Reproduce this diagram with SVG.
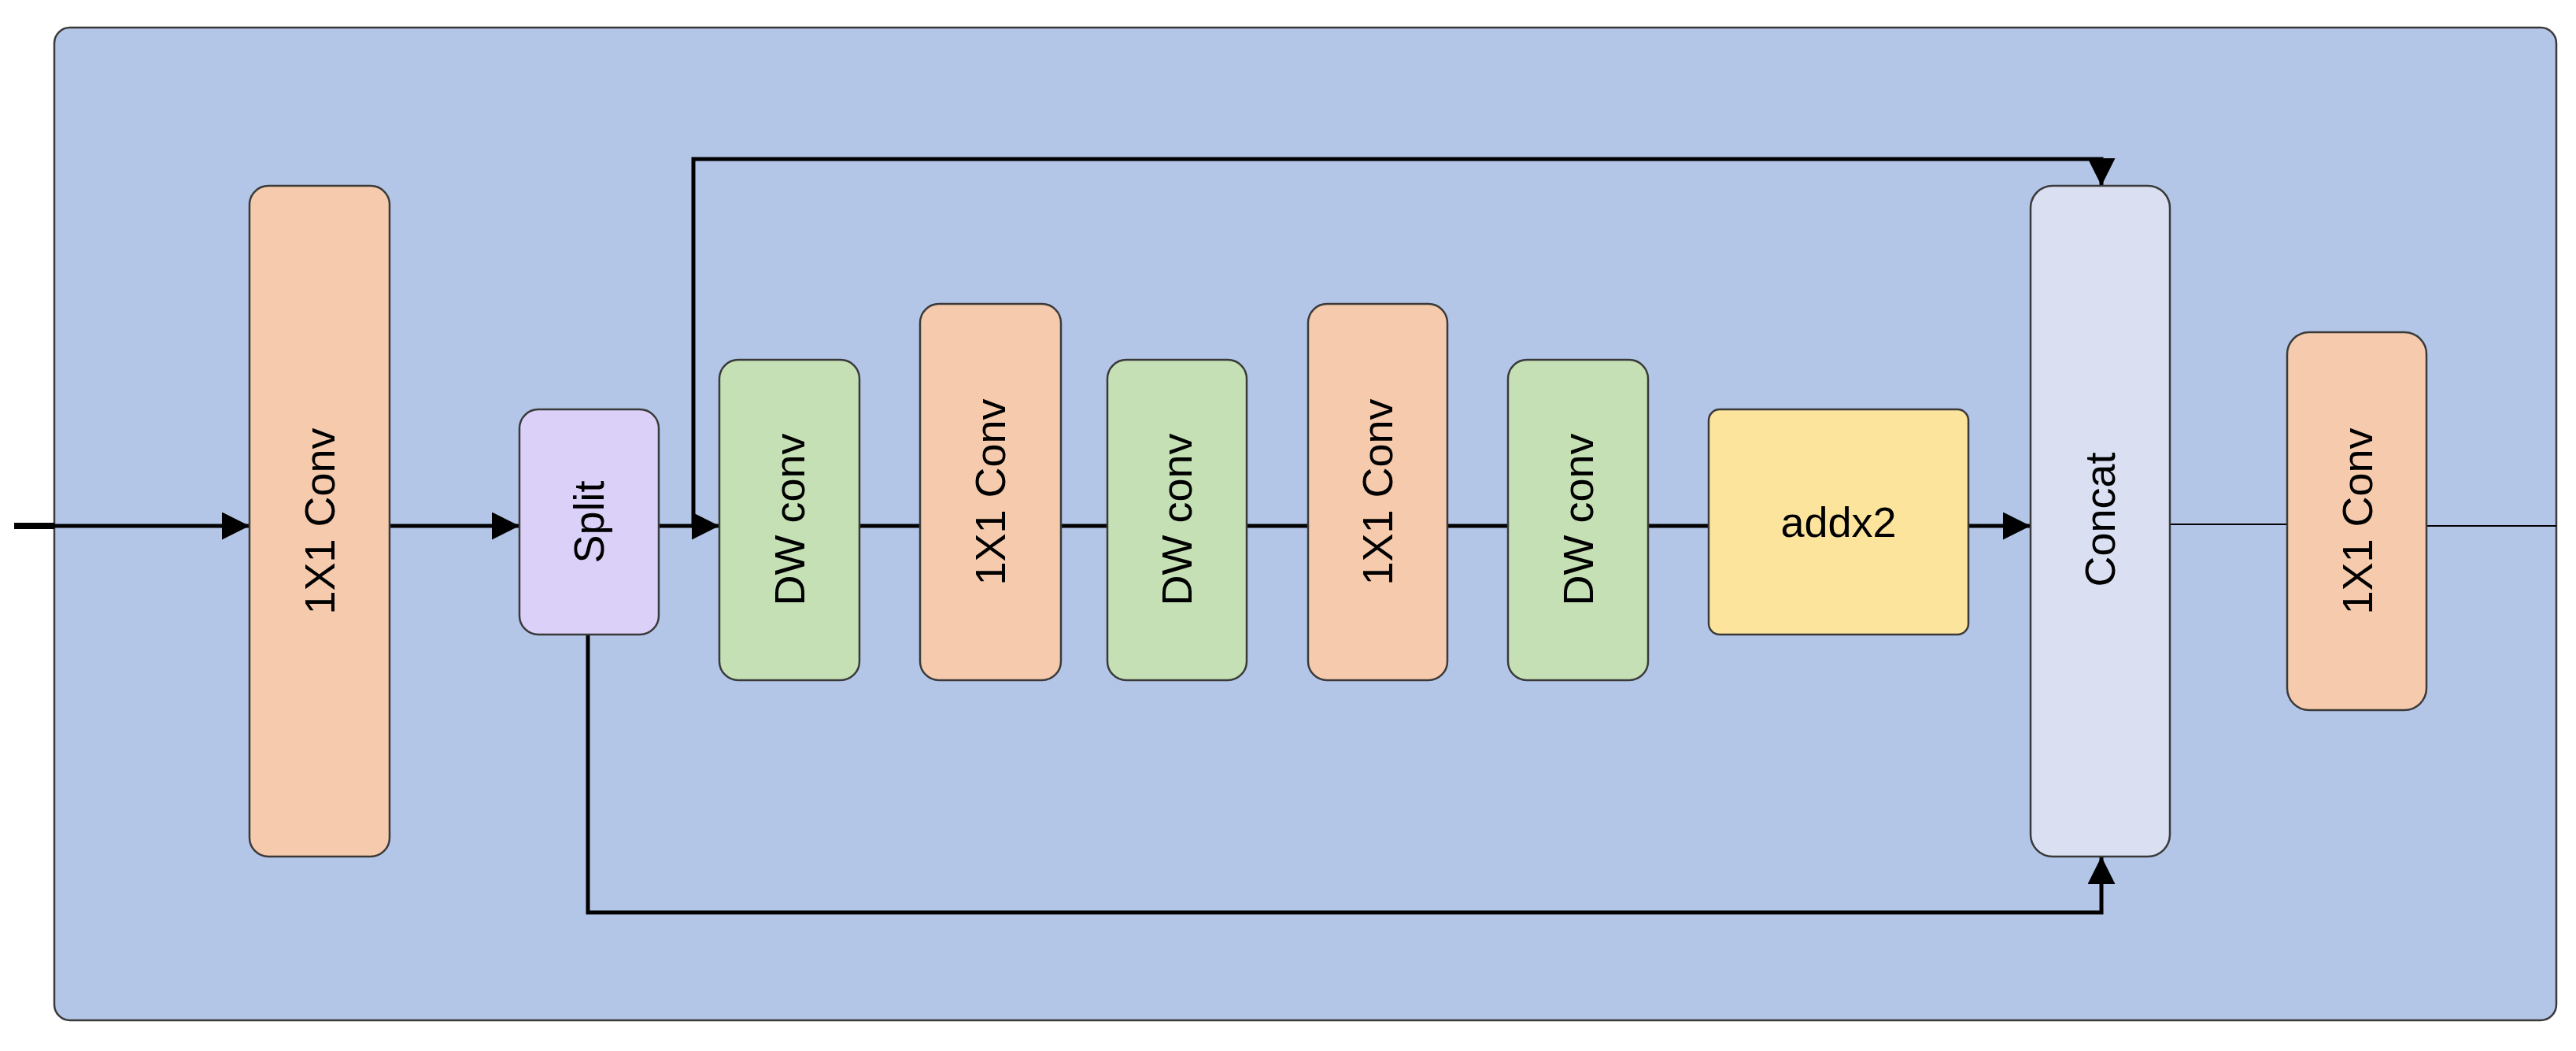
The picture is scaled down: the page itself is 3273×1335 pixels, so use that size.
<svg xmlns="http://www.w3.org/2000/svg" width="3273" height="1335" viewBox="0 0 3273 1335">
<style>
.n{stroke:#3a3a3a;stroke-width:2.5}
.t{font-family:"Liberation Sans",Arial,sans-serif;font-size:54px;fill:#000;text-anchor:middle;dominant-baseline:central}
.c{stroke:#000;stroke-width:5;fill:none}
.th{stroke:#000;stroke-width:2;fill:none}
</style>
<defs>
<marker id="a" viewBox="0 0 10 10" refX="10" refY="5" markerWidth="7" markerHeight="7" markerUnits="strokeWidth" orient="auto"><path d="M0,0L10,5L0,10z" fill="#000"/></marker>
</defs>
<rect width="3273" height="1335" fill="#fff"/>
<rect x="69" y="35" width="3179" height="1261" rx="20" fill="#b4c6e7" class="n"/>
<g id="connectors">
<path stroke="#000" stroke-width="8" d="M18,668H69"/>
<path class="c" d="M21,668H317" marker-end="url(#a)"/>
<path class="c" d="M495,668H660" marker-end="url(#a)"/>
<path class="c" d="M837,668H914" marker-end="url(#a)"/>
<path class="c" d="M1092,668H1169M1348,668H1407M1584,668H1662M1839,668H1916M2094,668H2171"/>
<path class="c" d="M2501,668H2580" marker-end="url(#a)"/>
<path class="c" d="M881,668V202H2670V236" marker-end="url(#a)"/>
<path class="c" d="M747,806V1159H2670V1088" marker-end="url(#a)"/>
<path class="th" d="M2757,666H2906M3083,668H3248"/>
</g>
<g id="conv1"><rect class="n" x="317" y="236" width="178" height="852" rx="24" fill="#f6cbad"/><text class="t" transform="translate(406,662) rotate(-90)">1X1 Conv</text></g>
<g id="split"><rect class="n" x="660" y="520" width="177" height="286" rx="24" fill="#dbd0f8"/><text class="t" transform="translate(748,663) rotate(-90)">Split</text></g>
<g id="dw1"><rect class="n" x="914" y="457" width="178" height="407" rx="24" fill="#c5e0b4"/><text class="t" transform="translate(1003,660) rotate(-90)">DW conv</text></g>
<g id="conv2"><rect class="n" x="1169" y="386" width="179" height="478" rx="24" fill="#f6cbad"/><text class="t" transform="translate(1258,625) rotate(-90)">1X1 Conv</text></g>
<g id="dw2"><rect class="n" x="1407" y="457" width="177" height="407" rx="24" fill="#c5e0b4"/><text class="t" transform="translate(1495,660) rotate(-90)">DW conv</text></g>
<g id="conv3"><rect class="n" x="1662" y="386" width="177" height="478" rx="24" fill="#f6cbad"/><text class="t" transform="translate(1750,625) rotate(-90)">1X1 Conv</text></g>
<g id="dw3"><rect class="n" x="1916" y="457" width="178" height="407" rx="24" fill="#c5e0b4"/><text class="t" transform="translate(2005,660) rotate(-90)">DW conv</text></g>
<g id="addx2"><rect class="n" x="2171" y="520" width="330" height="286" rx="14" fill="#fde49c"/><text class="t" x="2336" y="663">addx2</text></g>
<g id="concat"><rect class="n" x="2580" y="236" width="177" height="852" rx="28" fill="#dae0f2"/><text class="t" transform="translate(2668,660) rotate(-90)">Concat</text></g>
<g id="conv4"><rect class="n" x="2906" y="422" width="177" height="480" rx="28" fill="#f6cbad"/><text class="t" transform="translate(2995,662) rotate(-90)">1X1 Conv</text></g>
</svg>
